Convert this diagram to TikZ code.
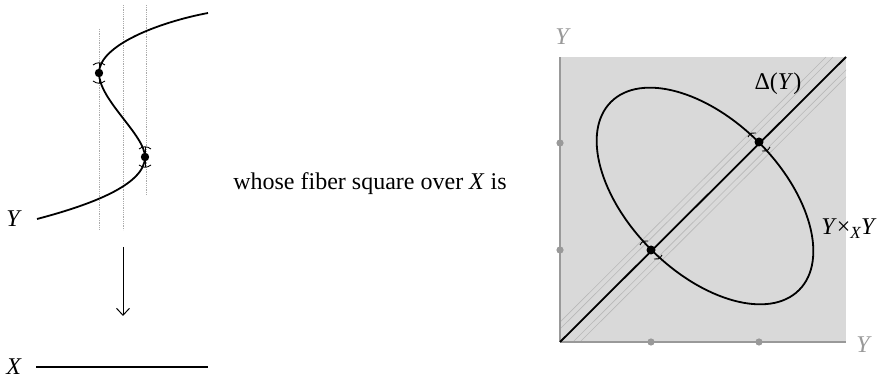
\documentclass[tikz,border=0pt]{standalone}
\usepackage{fontspec}
\setmainfont{Liberation Serif}
\usetikzlibrary{arrows.meta}
\definecolor{sqfill}{HTML}{D9D9D9}
\definecolor{axisgray}{HTML}{999999}
\definecolor{guidegray}{HTML}{B8B8B8}
\definecolor{dotline}{HTML}{AAAAAA}
\begin{document}
\begin{tikzpicture}[x=1pt,y=-1pt,
  lab/.style={inner sep=0pt,font=\fontsize{24}{28}\selectfont},
  graylab/.style={lab,text=axisgray},
  curveline/.style={line width=1.8pt},
  guide/.style={dotline,densely dotted,line width=0.8pt},
  ptdot/.style={fill=black,draw=none},
  tick/.style={line width=0.9pt},
  axisline/.style={axisgray,line width=1.8pt},
  axisdot/.style={fill=axisgray,draw=none},
  par/.style={guidegray,line width=0.6pt}]
\useasboundingbox (0,0) rectangle (879,379);

% ---------- left: the curve Y over X ----------
\draw[guide] (99,29) -- (99,230);
\draw[guide] (123,5) -- (123,230);
\draw[guide] (146,5) -- (146,195);

\node[lab] (Ylab) at (14,219) {\textit{Y}};
\coordinate (c0) at (37,219);
\coordinate (p2) at (145,157);
\coordinate (p1) at (99,73);
\coordinate (c1) at (208,13);
\draw[curveline] (c0) .. controls (90,205) and (145,185) .. (p2)
  .. controls (145,135) and (99,100) .. (p1)
  .. controls (99,45) and (160,22) .. (c1);

\foreach \p in {p1,p2}{
  \fill[ptdot] (\p) circle (4.2pt);
  \draw[tick] ([shift={(-6,-8)}]\p) .. controls ([shift={(-2,-11)}]\p) and ([shift={(2,-11)}]\p) .. ([shift={(6,-8)}]\p);
  \draw[tick] ([shift={(-6,8)}]\p) .. controls ([shift={(-2,11)}]\p) and ([shift={(2,11)}]\p) .. ([shift={(6,8)}]\p);
  \draw[line width=0.9pt] ([yshift=-10pt]\p) -- ([yshift=10pt]\p);
}

\coordinate (atop) at (123,247);
\coordinate (abot) at (123,316);
\draw[line width=1pt,-{Straight Barb[length=7pt,width=13pt]}] (atop) -- (abot);

\node[lab] (Xlab) at (14,367) {\textit{X}};
\coordinate (x0) at (36,367);
\coordinate (x1) at (208,367);
\draw[curveline] (x0) -- (x1);

% ---------- middle text ----------
\node[lab] (mid) at (370,184) {whose fiber square over \textit{X} is};

% ---------- right: the fiber square ----------
\fill[sqfill] (560,57) rectangle (846,342);
\begin{scope}
  \clip (560,57) rectangle (846,342);
  \foreach \d in {-20,-13,13,20}{
    \draw[par] (560+\d,342) -- (846+\d,57);
  }
\end{scope}
\coordinate (o) at (560,342);
\coordinate (ytop) at (560,57);
\coordinate (xend) at (846,342);
\draw[axisline] (o) -- (ytop);
\draw[axisline] (o) -- (xend);
\foreach \q in {(560,143),(560,250),(651,342),(759,342)}{
  \fill[axisdot] \q circle (3.6pt);
}
\node[graylab] (Ytop) at (563,37) {\textit{Y}};
\node[graylab] (Yright) at (864,345) {\textit{Y}};

\coordinate (dtop) at (846,57);
\draw[line width=1.8pt] (o) -- (dtop);
\draw[line width=1.8pt,rotate around={-45:(705,196)}] (705,196) ellipse [x radius=133pt, y radius=76pt];

\coordinate (q1) at (651,250);
\coordinate (q2) at (759,142);
\foreach \p in {q1,q2}{
  \fill[ptdot] (\p) circle (4.5pt);
  \draw[tick] ([shift={(-11,-5)}]\p) .. controls ([shift={(-9,-9)}]\p) and ([shift={(-6,-10)}]\p) .. ([shift={(-3,-9)}]\p);
  \draw[tick] ([shift={(11,5)}]\p) .. controls ([shift={(9,9)}]\p) and ([shift={(6,10)}]\p) .. ([shift={(3,9)}]\p);
}

\node[lab] (diag) at (778,84) {Δ(\textit{Y})};
\node[lab] (prod) at (849,229) {\textit{Y}×\raisebox{-0.35ex}{\fontsize{17}{20}\selectfont\textit{X}}\textit{Y}};
\end{tikzpicture}
\end{document}
